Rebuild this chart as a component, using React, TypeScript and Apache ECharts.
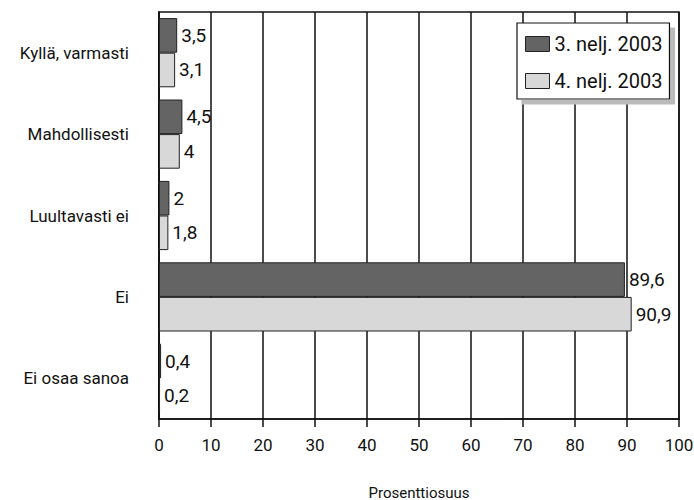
import React, { useEffect, useRef } from "react";
import * as echarts from "echarts";

const categories = ["Kyllä, varmasti", "Mahdollisesti", "Luultavasti ei", "Ei", "Ei osaa sanoa"];
const seriesNames = ["3. nelj. 2003", "4. nelj. 2003"];
const q3Values = [3.5, 4.5, 2, 89.6, 0.4];
const q4Values = [3.1, 4, 1.8, 90.9, 0.2];

const FONT = "Roboto, 'Liberation Sans', sans-serif";

export default function App() {
  const ref = useRef<HTMLDivElement>(null);
  useEffect(() => {
    if (!ref.current) return;
    const chart = echarts.init(ref.current, undefined, { renderer: "svg" });
    const fmt = (p: any) => String(p.value).replace(".", ",");
    const label = {
      show: true,
      position: "right" as const,
      distance: 4,
      formatter: fmt,
      fontFamily: FONT,
      fontSize: 19,
      color: "#111",
    };
    chart.setOption({
      animation: false,
      backgroundColor: "#fff",
      textStyle: { fontFamily: FONT },
      grid: {
        left: 159,
        right: 15,
        top: 12,
        bottom: 81,
        show: true,
        borderColor: "#111",
        borderWidth: 1.5,
        containLabel: false,
        outerBoundsMode: "none",
      },
      legend: {
        orient: "vertical",
        left: 517,
        top: 23,
        width: 136,
        padding: [10, 7, 7, 8],
        itemGap: 15,
        itemWidth: 24,
        itemHeight: 15,
        icon: "rect",
        backgroundColor: "#fff",
        borderColor: "#111",
        borderWidth: 1.2,
        shadowColor: "#bbb",
        shadowBlur: 0,
        shadowOffsetX: 5,
        shadowOffsetY: 5,
        itemStyle: { borderColor: "#222", borderWidth: 1 },
        textStyle: { fontFamily: FONT, fontSize: 20, lineHeight: 22, color: "#111" },
        data: seriesNames,
      },
      xAxis: {
        type: "value",
        min: 0,
        max: 100,
        interval: 10,
        name: "Prosenttiosuus",
        nameLocation: "middle",
        nameGap: 66,
        nameTextStyle: { fontFamily: FONT, fontSize: 15, color: "#111" },
        axisLine: { show: true, lineStyle: { color: "#111", width: 1.5 } },
        axisTick: { show: true, length: 8, lineStyle: { color: "#111", width: 1.5 } },
        axisLabel: { fontFamily: FONT, fontSize: 17, color: "#111", margin: 17 },
        splitLine: { show: true, lineStyle: { color: "#111", width: 1.5 } },
      },
      yAxis: {
        type: "category",
        data: categories,
        inverse: true,
        axisLine: { show: true, lineStyle: { color: "#111", width: 1.5 } },
        axisTick: { show: false },
        axisLabel: { fontFamily: FONT, fontSize: 17, color: "#111", margin: 30 },
      },
      series: [
        {
          name: seriesNames[0],
          type: "bar",
          data: q3Values,
          barGap: "0%",
          barCategoryGap: "15%",
          itemStyle: { color: "#646464", borderColor: "#222", borderWidth: 1 },
          label,
        },
        {
          name: seriesNames[1],
          type: "bar",
          data: q4Values,
          barGap: "0%",
          barCategoryGap: "15%",
          itemStyle: { color: "#d8d8d8", borderColor: "#222", borderWidth: 1 },
          label,
        },
      ],
    });
    return () => chart.dispose();
  }, []);
  return (
    <div
      ref={ref}
      style={{ position: "fixed", left: 0, top: 0, width: 694, height: 500 }}
    />
  );
}
